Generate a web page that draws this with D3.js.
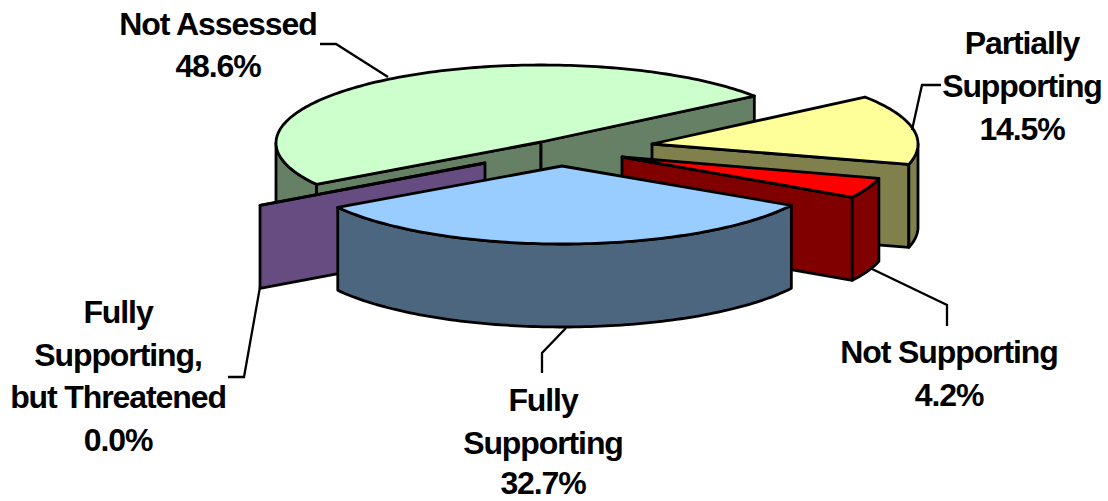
<!DOCTYPE html>
<html><head><meta charset="utf-8">
<script src="https://cdn.jsdelivr.net/npm/d3@7/dist/d3.min.js"></script>
<style>html,body{margin:0;padding:0;background:#fff}svg{display:block}
text{font-family:"Liberation Sans",Arial,sans-serif;font-weight:700;font-size:32px;letter-spacing:-1.1px;fill:#000;text-anchor:middle}</style>
</head><body><svg id="c" width="1108" height="501"></svg>
<script>
const categories=["Not Assessed","Partially Supporting","Not Supporting","Fully Supporting","Fully Supporting, but Threatened"];
const values=[48.6,14.5,4.2,32.7,0.0];
const percentLabels=["48.6%","14.5%","4.2%","32.7%","0.0%"];
const topColors=["#ccffcc","#ffff99","#ff0000","#99ccff","#cc99ff"];
const wallColors=["#668066","#80804d","#800000","#4d6680","#664c80"];

// layout of the exploded, tilted pie
const startDeg=238, depth=83, ry=78, stroke=2.8;
const apexes=[[541,142],[652,144],[622,157],[562,166],[485,163]];
const centreShift=[[1,1],[3,0],[4,1],[0.5,0],[4,1]];
const radiiX=[266,263,262,265,270];
const drawOrder=[0,1,2,4,3];

const labelLines=[["Not Assessed","48.6%"],["Partially","Supporting","14.5%"],["Not Supporting","4.2%"],["Fully","Supporting","32.7%"],["Fully","Supporting,","but Threatened","0.0%"]];
const labelX=[218,1022,949,543,118];
const labelY=[[35,77],[54,97,140],[363,406],[411,454,494],[323,366,408,451]];
const leaders=[[[320,44],[336,44],[388,77]],[[941,85],[922,85],[912,130]],[[870,268],[947,305],[947,326]],[[566,328],[542,353],[542,373]],[[260,287],[244,377],[228,377]]];

const svg=d3.select("#c");
const sa=startDeg*Math.PI/180;
const arcs=d3.pie().sort(null).startAngle(sa).endAngle(sa+2*Math.PI).value(d=>d)(values);
const line=d3.line();

function ell(i,t,dy=0){
  return [apexes[i][0]+centreShift[i][0]+radiiX[i]*Math.sin(t),
          apexes[i][1]+centreShift[i][1]-ry*Math.cos(t)+dy];
}
function arcPts(i,a,b,dy=0){
  const n=Math.max(2,Math.ceil(Math.abs(b-a)/0.02));
  return d3.range(n+1).map(k=>ell(i,a+(b-a)*k/n,dy));
}
function poly(pts,fill){
  svg.append("path").attr("d",line(pts)+"Z").attr("fill",fill).attr("stroke","#000")
    .attr("stroke-width",stroke).attr("stroke-linejoin","round");
}
drawOrder.forEach(i=>{
  const d=arcs[i], a=d.startAngle, b=d.endAngle, ap=apexes[i], wall=wallColors[i];
  const apexLow=[ap[0],ap[1]+depth];
  const face=t=>{const e=ell(i,t);poly([ap,e,[e[0],e[1]+depth],apexLow],wall);};
  if(Math.sin(a)<0) face(a);
  if(Math.sin(b)>0) face(b);
  // outer rim: the part of the arc that faces the viewer (PI/2..3PI/2, +2PI)
  [[Math.PI/2,1.5*Math.PI],[2.5*Math.PI,3.5*Math.PI]].forEach(([lo,hi])=>{
    const p=Math.max(a,lo), q=Math.min(b,hi);
    if(q>p) poly(arcPts(i,p,q).concat(arcPts(i,q,p,depth)),wall);
  });
  if(b>a) poly([ap].concat(arcPts(i,a,b)),topColors[i]);
  else poly([ap,ell(i,a)],topColors[i]);
});
leaders.forEach(l=>svg.append("path").attr("d",line(l)).attr("fill","none").attr("stroke","#000").attr("stroke-width",2.3));
labelLines.forEach((ls,i)=>ls.forEach((s,j)=>svg.append("text").attr("x",labelX[i]).attr("y",labelY[i][j]).text(s)));
</script></body></html>
